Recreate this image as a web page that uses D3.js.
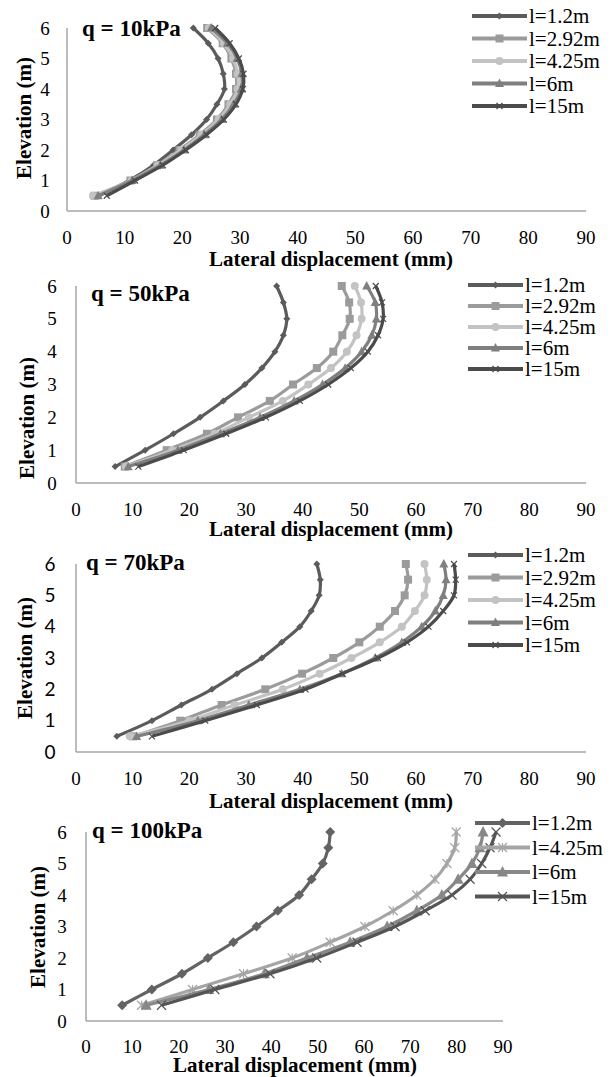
<!DOCTYPE html>
<html lang="en">
<head>
    <meta charset="UTF-8">
    <title>Lateral displacement profiles</title>
    <style>
        body {
            margin: 0;
            padding: 0;
            background-color: #ffffff;
        }
        svg text {
            font-family: "Liberation Serif", "Times New Roman", serif;
            fill: #000;
        }
        .axis-line {
            stroke: #a6a6a6;
            stroke-width: 1.5;
        }
        .tick-label {
            font-size: 19px;
        }
        .axis-title {
            font-size: 21px;
            font-weight: bold;
        }
        .panel-title {
            font-size: 23px;
            font-weight: bold;
        }
        .legend-label {
            font-size: 21px;
        }
    </style>
</head>
<body>
    <svg id="chart" width="614" height="1077"></svg>

    <script src="https://cdnjs.cloudflare.com/ajax/libs/d3/7.8.5/d3.min.js"></script>
    <script>
        // elevation of each reading (m), bottom to top
        const elevations = [0.5, 1, 1.5, 2, 2.5, 3, 3.5, 4, 4.5, 5, 5.5, 6];
        const xTicks = [0, 10, 20, 30, 40, 50, 60, 70, 80, 90];
        const yTicks = [0, 1, 2, 3, 4, 5, 6];

        // q = 10kPa
        const q10_l1_2  = [5.5, 10.8, 15.0, 18.4, 21.6, 24.2, 26.0, 27.3, 27.1, 26.2, 24.5, 21.9];
        const q10_l2_92 = [4.8, 11.0, 15.6, 19.5, 23.0, 26.0, 28.0, 29.3, 29.3, 28.5, 27.0, 24.3];
        const q10_l4_25 = [4.5, 11.2, 15.8, 19.8, 23.3, 26.3, 28.3, 29.6, 29.6, 28.8, 27.2, 24.6];
        const q10_l6    = [5.4, 11.3, 16.2, 20.3, 23.8, 26.8, 28.9, 30.2, 30.3, 29.5, 27.8, 25.0];
        const q10_l15   = [6.9, 11.8, 16.6, 20.6, 24.2, 27.2, 29.3, 30.5, 30.6, 29.8, 28.2, 25.7];

        // q = 50kPa
        const q50_l1_2  = [6.9, 12.2, 17.2, 21.9, 26.0, 29.8, 32.8, 35.1, 36.6, 37.2, 36.6, 35.4];
        const q50_l2_92 = [8.6, 16.0, 23.1, 28.6, 34.2, 38.3, 42.5, 45.4, 47.0, 48.3, 48.2, 46.9];
        const q50_l4_25 = [8.8, 17.0, 24.5, 30.5, 36.5, 41.0, 45.0, 47.8, 49.5, 50.4, 50.3, 49.2];
        const q50_l6    = [9.2, 18.0, 25.5, 32.5, 38.5, 43.5, 47.5, 50.4, 52.2, 53.0, 52.8, 51.3];
        const q50_l15   = [11.0, 19.0, 26.5, 33.5, 39.5, 44.5, 48.5, 51.5, 53.3, 54.2, 54.0, 52.9];

        // q = 70kPa
        const q70_l1_2  = [7.2, 13.4, 18.6, 24.0, 28.4, 32.8, 36.3, 39.5, 41.5, 42.9, 43.1, 42.5];
        const q70_l2_92 = [10.1, 18.4, 25.7, 33.4, 39.9, 45.4, 50.0, 53.6, 56.3, 58.0, 58.6, 58.2];
        const q70_l4_25 = [9.5, 20.0, 28.0, 36.5, 43.0, 48.6, 53.6, 57.5, 59.8, 61.5, 61.9, 61.5];
        const q70_l6    = [10.7, 21.5, 30.5, 39.5, 46.9, 52.8, 57.5, 61.0, 63.4, 64.8, 65.3, 64.9];
        const q70_l15   = [13.4, 22.8, 31.9, 40.5, 47.0, 53.3, 58.4, 62.2, 64.8, 66.7, 67.0, 66.7];

        // q = 100kPa
        const q100_l1_2  = [7.8, 14.2, 20.7, 26.3, 31.8, 36.8, 41.4, 46.0, 48.7, 51.1, 52.3, 52.7];
        const q100_l4_25 = [12.0, 23.0, 34.0, 44.5, 52.7, 60.2, 66.3, 71.4, 75.3, 77.9, 79.6, 79.9];
        const q100_l6    = [13.0, 26.5, 38.5, 47.7, 57.0, 65.0, 71.4, 76.8, 80.3, 83.3, 85.0, 85.7];
        const q100_l15   = [16.3, 27.8, 39.7, 49.8, 58.5, 66.7, 73.2, 79.0, 82.9, 85.4, 87.2, 88.5];

        const svg = d3.select('#chart');

        // marker shapes drawn as paths around (0,0)
        function markerPath(type, s) {
            const h = s / 2;
            if (type === 'diamond') return `M0,${-h}L${h},0L0,${h}L${-h},0Z`;
            if (type === 'square') return `M${-h},${-h}H${h}V${h}H${-h}Z`;
            if (type === 'circle') return d3.symbol(d3.symbolCircle, s * s * 0.78)();
            if (type === 'triangle') return `M0,${-h * 1.1}L${h},${h * 0.8}L${-h},${h * 0.8}Z`;
            if (type === 'x') return `M${-h},${-h}L${h},${h}M${-h},${h}L${h},${-h}`;
            if (type === 'star') return `M${-h},${-h}L${h},${h}M${-h},${h}L${h},${-h}M0,${-h}V${h}`;
            return '';
        }

        function isStroked(type) {
            return type === 'x' || type === 'star';
        }

        function drawPanel(p) {
            const x = d3.scaleLinear().domain([0, 90]).range([p.left, p.right]);
            const y = d3.scaleLinear().domain([0, 6]).range([p.bottom, p.top]);
            const g = svg.append('g');

            // axes: plain gray lines, no tick marks
            g.append('line').attr('class', 'axis-line')
                .attr('x1', x(0)).attr('x2', x(0)).attr('y1', y(0)).attr('y2', y(6));
            g.append('line').attr('class', 'axis-line')
                .attr('x1', x(0)).attr('x2', x(90)).attr('y1', y(0)).attr('y2', y(0));

            g.selectAll('.ytick')
                .data(yTicks)
                .enter()
                .append('text')
                .attr('class', 'tick-label')
                .attr('x', p.yLabelX)
                .attr('y', d => y(d))
                .attr('dy', '0.35em')
                .attr('text-anchor', 'middle')
                .style('font-family', p.yTickFont || null)
                .text(d => d);

            g.selectAll('.xtick')
                .data(xTicks)
                .enter()
                .append('text')
                .attr('class', 'tick-label')
                .attr('x', d => x(d))
                .attr('y', p.xLabelY)
                .attr('dy', '0.35em')
                .attr('text-anchor', 'middle')
                .text(d => d);

            g.append('text')
                .attr('class', 'axis-title')
                .attr('x', p.xTitleX)
                .attr('y', p.xTitleY)
                .attr('dy', '0.35em')
                .attr('text-anchor', 'middle')
                .text('Lateral displacement (mm)');

            g.append('text')
                .attr('class', 'axis-title')
                .attr('transform', `translate(${p.yTitleX},${p.yTitleY}) rotate(-90)`)
                .attr('dy', '0.35em')
                .attr('text-anchor', 'middle')
                .text('Elevation (m)');

            g.append('text')
                .attr('class', 'panel-title')
                .attr('x', p.titleX)
                .attr('y', p.titleY)
                .attr('dy', '0.35em')
                .text(p.title);

            const line = d3.line()
                .x(d => x(d[0]))
                .y(d => y(d[1]))
                .curve(d3.curveCatmullRom.alpha(0.5));

            p.series.forEach(s => {
                const pts = s.values.map((v, i) => [v, elevations[i]]);
                g.append('path')
                    .attr('d', line(pts))
                    .attr('fill', 'none')
                    .attr('stroke', s.color)
                    .attr('stroke-width', 3.2);
                g.selectAll(null)
                    .data(pts)
                    .enter()
                    .append('path')
                    .attr('transform', d => `translate(${x(d[0])},${y(d[1])})`)
                    .attr('d', markerPath(s.marker, s.size))
                    .attr('fill', isStroked(s.marker) ? 'none' : s.color)
                    .attr('stroke', s.color)
                    .attr('stroke-width', isStroked(s.marker) ? 1.2 : 0);
            });

            // legend
            const lg = g.append('g');
            p.series.forEach((s, i) => {
                const ly = p.legendY + i * p.legendStep;
                lg.append('line')
                    .attr('x1', p.legendX).attr('x2', p.legendX + 55)
                    .attr('y1', ly).attr('y2', ly)
                    .attr('stroke', s.color)
                    .attr('stroke-width', 4);
                lg.append('path')
                    .attr('transform', `translate(${p.legendX + 27.5},${ly})`)
                    .attr('d', markerPath(s.marker, s.size))
                    .attr('fill', isStroked(s.marker) ? 'none' : s.color)
                    .attr('stroke', s.color)
                    .attr('stroke-width', isStroked(s.marker) ? 1.2 : 0);
                lg.append('text')
                    .attr('class', 'legend-label')
                    .attr('x', p.legendX + 57)
                    .attr('y', ly)
                    .attr('dy', '0.35em')
                    .text(s.name);
            });
        }

        const c12 = '#5b5b5b', c292 = '#9b9b9b', c425 = '#c3c3c3', c6 = '#7f7f7f', c15 = '#4b4b4b';

        drawPanel({
            title: 'q = 10kPa', titleX: 82, titleY: 28,
            left: 67, right: 586, top: 28, bottom: 211,
            yLabelX: 45, xLabelY: 237, xTitleX: 331, xTitleY: 259,
            yTitleX: 24, yTitleY: 118,
            legendX: 472, legendY: 16, legendStep: 22.5,
            series: [
                { name: 'l=1.2m', values: q10_l1_2, color: c12, marker: 'diamond', size: 7 },
                { name: 'l=2.92m', values: q10_l2_92, color: c292, marker: 'square', size: 8 },
                { name: 'l=4.25m', values: q10_l4_25, color: c425, marker: 'circle', size: 8 },
                { name: 'l=6m', values: q10_l6, color: c6, marker: 'triangle', size: 9 },
                { name: 'l=15m', values: q10_l15, color: c15, marker: 'x', size: 6 }
            ]
        });

        drawPanel({
            title: 'q = 50kPa', titleX: 91, titleY: 293,
            left: 76, right: 586, top: 286, bottom: 483,
            yLabelX: 52, xLabelY: 509, xTitleX: 331, xTitleY: 529,
            yTitleX: 27, yTitleY: 418,
            legendX: 468, legendY: 285, legendStep: 21,
            series: [
                { name: 'l=1.2m', values: q50_l1_2, color: c12, marker: 'diamond', size: 7 },
                { name: 'l=2.92m', values: q50_l2_92, color: c292, marker: 'square', size: 8 },
                { name: 'l=4.25m', values: q50_l4_25, color: c425, marker: 'circle', size: 8 },
                { name: 'l=6m', values: q50_l6, color: c6, marker: 'triangle', size: 9 },
                { name: 'l=15m', values: q50_l15, color: c15, marker: 'x', size: 6 }
            ]
        });

        drawPanel({
            title: 'q = 70kPa', titleX: 86, titleY: 562,
            left: 76, right: 586, top: 564, bottom: 752,
            yLabelX: 50, yTickFont: 'Lato, "Liberation Sans", sans-serif',
            xLabelY: 778, xTitleX: 331, xTitleY: 801,
            yTitleX: 25, yTitleY: 658,
            legendX: 468, legendY: 555, legendStep: 22.5,
            series: [
                { name: 'l=1.2m', values: q70_l1_2, color: c12, marker: 'diamond', size: 7 },
                { name: 'l=2.92m', values: q70_l2_92, color: c292, marker: 'square', size: 8 },
                { name: 'l=4.25m', values: q70_l4_25, color: c425, marker: 'circle', size: 8 },
                { name: 'l=6m', values: q70_l6, color: c6, marker: 'triangle', size: 9 },
                { name: 'l=15m', values: q70_l15, color: c15, marker: 'x', size: 6 }
            ]
        });

        drawPanel({
            title: 'q = 100kPa', titleX: 92, titleY: 830,
            left: 86, right: 503, top: 832, bottom: 1021,
            yLabelX: 62, xLabelY: 1046, xTitleX: 295, xTitleY: 1065,
            yTitleX: 38, yTitleY: 927,
            legendX: 475, legendY: 823, legendStep: 24.5,
            series: [
                { name: 'l=1.2m', values: q100_l1_2, color: '#636363', marker: 'diamond', size: 10 },
                { name: 'l=4.25m', values: q100_l4_25, color: '#a5a5a5', marker: 'star', size: 9 },
                { name: 'l=6m', values: q100_l6, color: '#888888', marker: 'triangle', size: 11 },
                { name: 'l=15m', values: q100_l15, color: '#555555', marker: 'x', size: 9 }
            ]
        });
    </script>
</body>
</html>
